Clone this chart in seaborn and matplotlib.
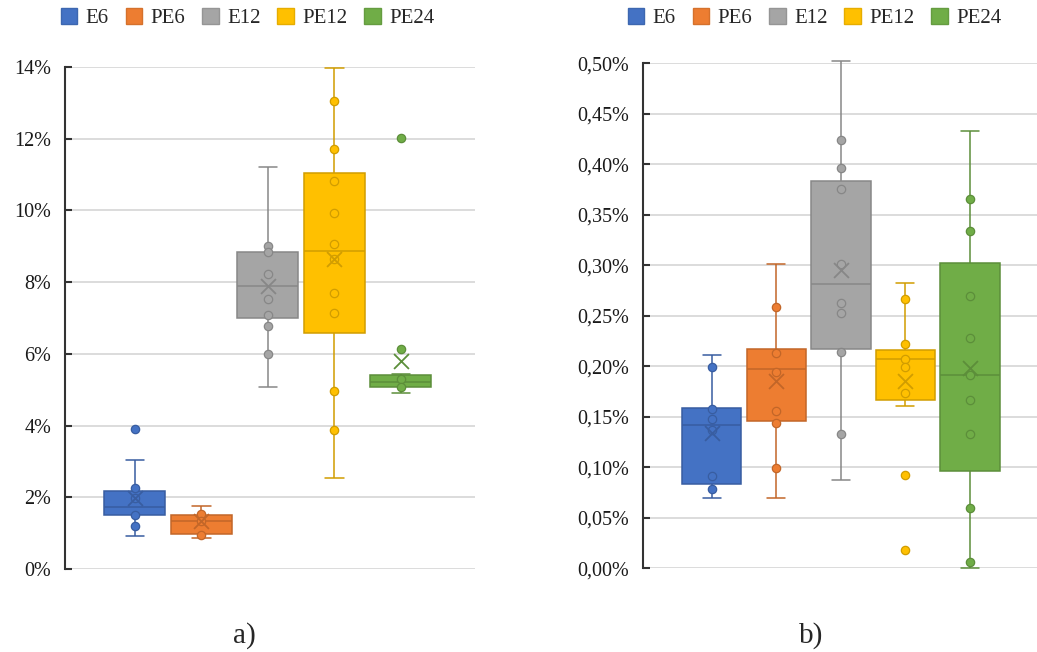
"""
Box-and-whisker comparison of E6 / PE6 / E12 / PE12 / PE24 specimens
- panel a) values in %, panel b) values in %, decimal comma
- Excel-style boxes: inner points, outliers and mean marked with an x
"""
import numpy as np
import pandas as pd
import matplotlib
matplotlib.use("Agg")
import matplotlib.pyplot as plt
from matplotlib.patches import Patch
from matplotlib.ticker import FuncFormatter, MultipleLocator
import seaborn as sns

sns.set_theme(style="white")
plt.rcParams["font.family"] = ["Liberation Serif", "DejaVu Serif"]
plt.rcParams["ytick.direction"] = "in"
plt.rcParams["ytick.left"] = True

groups = ["E6", "PE6", "E12", "PE12", "PE24"]
colors = ["#4472C4", "#ED7D31", "#A5A5A5", "#FFC000", "#70AD47"]

# ------------------------------------------------------------------
# Panel a) box summaries: whisker low, Q1, median, Q3, whisker high
# ------------------------------------------------------------------
a_E6 = [0.93, 1.50, 1.74, 2.17, 3.04]
a_PE6 = [0.86, 0.98, 1.35, 1.51, 1.77]
a_E12 = [5.08, 7.01, 7.90, 8.83, 11.20]
a_PE12 = [2.55, 6.59, 8.86, 11.03, 13.96]
a_PE24 = [4.92, 5.08, 5.22, 5.41, 5.44]
a_means = [1.97, 1.34, 7.88, 8.64, 5.81]

a_pts_E6 = [3.90, 2.25, 1.97, 1.50, 1.20]
a_pts_PE6 = [1.53, 1.33, 0.95]
a_pts_E12 = [9.02, 8.83, 8.22, 7.52, 7.08, 6.77, 5.99]
a_pts_PE12 = [13.06, 11.70, 10.83, 9.93, 9.05, 8.64, 7.70, 7.15, 4.97, 3.88]
a_pts_PE24 = [12.01, 6.13, 5.29, 5.07]

# ------------------------------------------------------------------
# Panel b)
# ------------------------------------------------------------------
b_E6 = [0.0699, 0.0835, 0.1422, 0.1590, 0.2112]
b_PE6 = [0.0699, 0.1462, 0.1970, 0.2175, 0.3010]
b_E12 = [0.0874, 0.2168, 0.2812, 0.3832, 0.5026]
b_PE12 = [0.1607, 0.1669, 0.2069, 0.2161, 0.2822]
b_PE24 = [0.0000, 0.0966, 0.1917, 0.3020, 0.4330]
b_means = [0.1337, 0.1855, 0.2954, 0.1855, 0.1986]

b_pts_E6 = [0.199, 0.158, 0.1478, 0.137, 0.0917, 0.0785]
b_pts_PE6 = [0.259, 0.2132, 0.1944, 0.1558, 0.1436, 0.099]
b_pts_E12 = [0.4241, 0.3967, 0.3759, 0.301, 0.2624, 0.2531, 0.2145, 0.1333]
b_pts_PE12 = [0.2663, 0.2224, 0.2075, 0.1996, 0.1736, 0.0927, 0.0181]
b_pts_PE24 = [0.3657, 0.3337, 0.2693, 0.2283, 0.1911, 0.1663, 0.1333, 0.0597, 0.0066]


def darker(c, f=0.82):
    r, g, b = matplotlib.colors.to_rgb(c)
    return (r * f, g * f, b * f)


def draw_panel(ax, boxes, points, means):
    for i, g in enumerate(groups):
        c = colors[i]
        dk = darker(c)
        sns.boxplot(x=[g] * len(boxes[i]), y=boxes[i], order=groups, color=c,
                    linecolor=dk, linewidth=1.1, width=0.92, whis=(0, 100),
                    saturation=1, fliersize=0, capwidths=0.28, ax=ax)
        sns.stripplot(x=[g] * len(points[i]), y=points[i], order=groups, color=c,
                      edgecolor=dk, linewidth=0.9, size=6, jitter=False,
                      ax=ax, zorder=3)
        ax.scatter([i], [means[i]], marker="x", s=115, color=dk, linewidths=1.3, zorder=4)
    for art in ax.lines + ax.patches + ax.collections:
        art.set_clip_on(False)
    ax.yaxis.grid(True, color="#D9D9D9", linewidth=1.3)
    ax.set_axisbelow(True)
    for s in ["top", "right", "bottom"]:
        ax.spines[s].set_visible(False)
    ax.spines["left"].set_color("#333333")
    ax.spines["left"].set_linewidth(1.5)
    ax.set_xticks([])
    ax.set_xlabel("")
    ax.set_ylabel("")


def style_ticks(ax):
    ax.tick_params(axis="y", which="major", direction="in", length=5, width=1.5,
                   color="#333333", labelsize=14.5, pad=10, left=True,
                   labelcolor="#1a1a1a")


fig = plt.figure(figsize=(10.37, 6.52), dpi=100)
W, H = 1037, 652

ax_a = fig.add_axes([65 / W, (H - 569) / H, 410 / W, 502 / H])
draw_panel(ax_a,
           [a_E6, a_PE6, a_E12, a_PE12, a_PE24],
           [a_pts_E6, a_pts_PE6, a_pts_E12, a_pts_PE12, a_pts_PE24],
           a_means)
ax_a.set_ylim(0, 14)
ax_a.set_xlim(-1.05, 5.115)
ax_a.yaxis.set_major_locator(MultipleLocator(2))
ax_a.yaxis.set_major_formatter(FuncFormatter(lambda v, p: f"{v:.0f}%"))
style_ticks(ax_a)

ax_b = fig.add_axes([642.7 / W, (H - 568.3) / H, (W - 642.7) / W, 505 / H])
draw_panel(ax_b,
           [b_E6, b_PE6, b_E12, b_PE12, b_PE24],
           [b_pts_E6, b_pts_PE6, b_pts_E12, b_pts_PE12, b_pts_PE24],
           b_means)
ax_b.set_ylim(0, 0.5)
ax_b.set_xlim(-1.07, 5.04)
ax_b.yaxis.set_major_locator(MultipleLocator(0.05))
ax_b.yaxis.set_major_formatter(FuncFormatter(lambda v, p: f"{v:.2f}%".replace(".", ",")))
style_ticks(ax_b)

# legends above each panel
handles = [Patch(facecolor=c, edgecolor=darker(c, 0.9), label=g) for g, c in zip(groups, colors)]
for cx in [247.5 / W, 814.5 / W]:
    fig.legend(handles=handles, ncol=5, loc="center", bbox_to_anchor=(cx, (H - 18) / H),
               frameon=False, fontsize=15, handlelength=0.8, handleheight=0.8,
               handletextpad=0.4, columnspacing=0.8, labelcolor="#262626")

fig.text(244.5 / W, (H - 636) / H, "a)", ha="center", va="center", fontsize=21)
fig.text(811 / W, (H - 636) / H, "b)", ha="center", va="center", fontsize=21)

fig.savefig("out.png", dpi=100)
